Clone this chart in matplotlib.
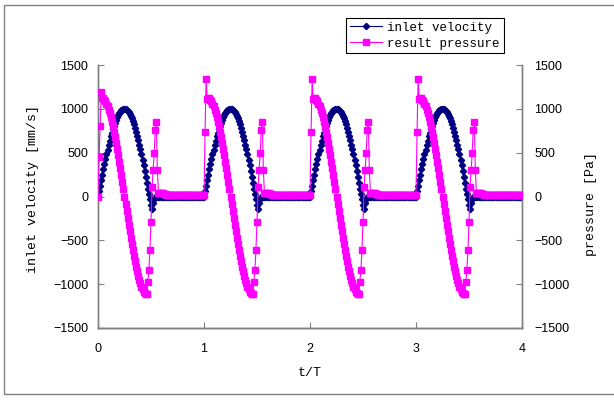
import matplotlib
matplotlib.use("Agg")
import matplotlib.pyplot as plt
import numpy as np
from matplotlib.patches import Rectangle

# sampling step in t/T
STEP = 0.01
N_CYCLES = 4

# inlet velocity over one period [mm/s], k = 0..99
velocity_cycle = [
    0, 63, 125, 187, 249, 309, 368, 426, 482, 536,
    588, 637, 685, 729, 771, 809, 844, 876, 905, 930,
    951, 969, 982, 992, 998, 1000, 998, 992, 980, 965,
    945, 920, 890, 858, 822, 782, 740, 694, 645, 593,
    538, 480, 420, 357, 290, 222, 155, 90, 30, -30,
    -95, -140, -70, -25, -8, 0, 0, 0, 0, 0,
    0, 0, 0, 0, 0, 0, 0, 0, 0, 0,
    0, 0, 0, 0, 0, 0, 0, 0, 0, 0,
    0, 0, 0, 0, 0, 0, 0, 0, 0, 0,
    0, 0, 0, 0, 0, 0, 0, 0, 0, 0,
]

# pressure at the start of the first period and of the later ones [Pa], k = 0..3
pressure_head_first = [0, 450, 800, 1190]
pressure_head = [15, 735, 1335, 1110]

# rest of the pressure period [Pa], k = 4..99
pressure_tail = [
    1125, 1120, 1105, 1085, 1060, 1030,
    990, 950, 905, 855, 800, 740, 675, 610, 540, 470,
    395, 320, 240, 160, 80, 0, -80, -160, -240, -320,
    -395, -470, -540, -610, -675, -740, -800, -855, -905, -950,
    -990, -1030, -1060, -1085, -1100, -1110, -1110, -977, -838, -610,
    -293, 112, 302, 492, 758, 853, 300, 40, 45, 45,
    40, 35, 30, 25, 22, 20, 18, 18, 17, 17,
    16, 16, 16, 16, 15, 15, 15, 15, 15, 15,
    15, 15, 15, 15, 15, 15, 15, 15, 15, 15,
    15, 15, 15, 15, 15, 15, 15, 15, 15, 15,
]

velocity = velocity_cycle * N_CYCLES + [velocity_cycle[0]]
pressure = (pressure_head_first + pressure_tail
            + (pressure_head + pressure_tail) * (N_CYCLES - 1)
            + [pressure_head[0]])
t = np.arange(len(velocity)) * STEP

NAVY = "#000080"
MAGENTA = "#FF00FF"
AXIS_GREY = "#808080"

plt.rcParams["font.family"] = ["Liberation Sans", "DejaVu Sans"]
mono = ["Liberation Mono", "DejaVu Sans Mono"]

fig = plt.figure(figsize=(6.14, 4.0), dpi=100)
W, H = 614, 400
ax = fig.add_axes([98 / W, 72 / H, 424 / W, 263 / H])
ax2 = ax.twinx()

ax.plot(t, velocity, color=NAVY, lw=0.8, marker="D", ms=3.2,
        mec=NAVY, mfc=NAVY, label="inlet velocity", zorder=3)
ax2.plot(t, pressure, color=MAGENTA, lw=0.8, marker="s", ms=3.8,
         mec=MAGENTA, mfc=MAGENTA, label="result pressure", zorder=3)

ticks = [-1500, -1000, -500, 0, 500, 1000, 1500]
for a in (ax, ax2):
    a.set_ylim(-1500, 1500)
    a.set_yticks(ticks)
    a.set_xlim(0, 4)
    a.spines["top"].set_visible(False)
    for s in ("left", "right", "bottom"):
        a.spines[s].set_color(AXIS_GREY)
        a.spines[s].set_linewidth(1.0)
ax.spines["bottom"].set_color("#404040")
ax.set_xticks([0, 1, 2, 3, 4])
ax.tick_params(axis="x", direction="in", length=4, pad=11, labelsize=9,
               color=AXIS_GREY)
ax.tick_params(axis="y", direction="in", length=4, pad=7, labelsize=9,
               color=AXIS_GREY)
ax2.tick_params(axis="y", direction="in", length=4, pad=9, labelsize=9,
                color=AXIS_GREY)

ax.set_xlabel("t/T", family=mono, fontsize=9.5)
ax.xaxis.set_label_coords(0.5, -0.15)
ax.set_ylabel("inlet velocity [mm/s]", family=mono, fontsize=9.5)
ax.yaxis.set_label_coords(-0.139, 0.53)
ax2.set_ylabel("pressure [Pa]", family=mono, fontsize=9.5, rotation=90)
ax2.yaxis.set_label_coords(1.149, 0.47)

h1, l1 = ax.get_legend_handles_labels()
h2, l2 = ax2.get_legend_handles_labels()
leg = fig.legend(h1 + h2, l1 + l2, loc="upper left",
                 bbox_to_anchor=(346 / W, 1 - 18 / H), borderaxespad=0,
                 prop={"family": mono, "size": 9}, fancybox=False,
                 edgecolor="black", framealpha=1, handlelength=2.6,
                 handletextpad=0.4, borderpad=0.3, labelspacing=0.3)
leg.get_frame().set_linewidth(0.8)

# outer chart border, open on the right
fig.patches.append(Rectangle((4 / W, 6 / H), 1.2, 389 / H, transform=fig.transFigure,
                             fill=False, edgecolor=AXIS_GREY, lw=1.0))

fig.savefig("out.png", dpi=100)
